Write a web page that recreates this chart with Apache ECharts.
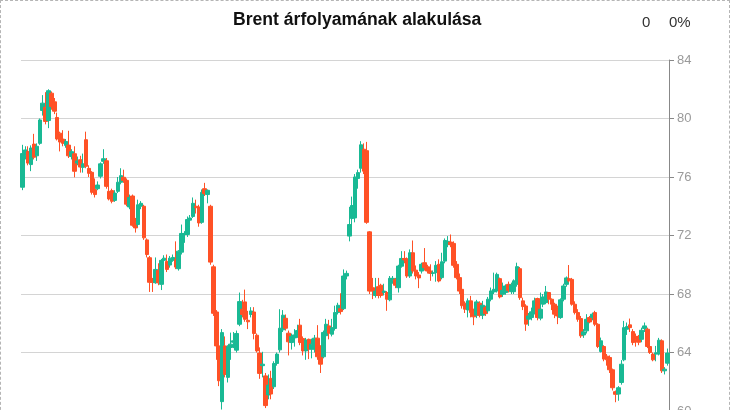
<!DOCTYPE html>
<html>
<head>
<meta charset="utf-8">
<script src="https://cdn.jsdelivr.net/npm/echarts@6/dist/echarts.min.js"></script>
<style>
html,body{margin:0;padding:0;background:#fff;overflow:hidden;}
#wrap{position:absolute;left:0;top:0;width:730px;height:430px;box-sizing:border-box;border:1px dashed #b5b5b5;}
#chart{width:728px;height:428px;}
</style>
</head>
<body>
<div id="wrap"><div id="chart"></div></div>
<script>
const titleText = 'Brent árfolyamának alakulása';
const changeValue = '0';
const changePercent = '0%';
const yTicks = {min: 60, max: 84, step: 4};

const opens = [75.3,77.5,77.75,76.85,78.25,77.45,78.3,80.55,80.77,79.86,81.73,81.14,80.07,79.0,78.59,78.16,78.18,77.4,77.59,76.95,77.18,76.66,78.55,76.59,76.32,75.14,75.2,76.05,77.07,77.11,75.02,75.07,74.4,75.02,75.64,75.98,75.77,73.95,74.7,72.86,72.75,74.0,74.0,71.7,70.48,68.95,68.77,69.6,68.66,70.3,70.23,69.98,70.3,70.36,69.73,70.86,72.07,72.07,73.05,73.3,74.0,73.95,72.9,75.2,74.8,74.0,69.86,66.77,64.45,60.64,64.45,62.3,64.34,64.7,64.16,65.93,66.96,67.46,66.2,66.6,66.77,65.18,63.96,63.1,62.4,61.1,62.23,61.66,63.25,64.18,65.55,66.34,65.32,64.68,65.0,65.15,65.87,64.95,64.11,64.9,64.23,64.23,64.98,64.34,63.71,65.15,65.82,65.25,65.64,66.73,67.0,67.0,69.23,71.96,73.16,73.2,75.9,76.6,77.9,77.8,72.25,68.43,67.9,68.5,68.6,68.1,68.1,67.6,68.9,69.0,68.43,69.9,70.43,70.41,69.23,70.82,69.63,69.3,69.57,70.14,69.86,69.57,69.41,69.46,70.03,69.12,70.25,71.4,71.55,71.46,70.03,69.12,68.32,67.37,66.91,67.53,66.91,66.55,67.37,66.55,67.07,66.85,67.64,68.14,68.21,69.05,67.98,68.1,68.66,68.16,68.16,68.66,69.73,67.53,67.18,66.28,66.39,66.73,67.69,66.35,67.3,67.41,68.1,67.64,67.3,67.07,66.39,67.64,68.66,69.05,69.0,67.3,66.73,66.32,65.2,65.48,66.39,66.4,66.73,65.93,64.07,64.41,63.75,63.66,62.82,61.32,61.16,61.95,63.5,65.59,65.89,65.43,65.1,65.1,64.9,65.64,65.59,64.41,63.89,63.89,63.89,64.8,62.75,63.27];
const closes = [77.6,77.85,76.95,77.98,77.35,78.1,79.9,81.05,79.8,81.9,80.82,80.5,78.6,78.39,78.3,78.43,77.45,77.73,76.39,77.1,76.68,76.9,76.73,76.25,74.95,74.8,75.45,76.9,77.25,75.36,74.5,74.34,74.9,75.64,76.09,75.77,74.14,74.6,72.7,72.52,74.1,74.2,71.84,70.7,68.8,68.8,69.68,68.77,70.3,70.45,69.68,70.45,70.5,69.84,70.93,72.14,72.14,73.09,73.2,74.2,73.9,72.86,74.95,74.86,75.09,70.18,66.68,64.45,62.07,65.36,62.5,64.4,64.57,64.8,65.3,67.48,66.6,66.27,66.1,66.84,65.3,64.11,62.57,63.2,60.37,61.77,61.16,63.25,63.89,65.66,66.55,65.66,64.73,65.1,65.2,65.5,64.68,64.11,64.86,64.23,64.57,64.98,63.71,63.2,65.37,65.93,65.32,65.7,66.73,67.23,66.8,69.23,69.41,72.75,74.05,76.0,76.3,78.2,76.4,72.9,68.2,68.2,68.2,67.9,67.9,68.2,67.64,69.07,69.07,68.6,69.91,70.43,70.33,69.23,70.82,69.57,69.23,69.1,70.03,69.8,69.57,69.41,69.45,69.96,68.89,70.2,71.66,71.6,71.37,69.96,69.12,68.2,67.2,66.96,67.53,66.73,66.44,67.46,66.55,67.23,66.66,67.64,68.21,68.32,69.34,67.8,68.25,68.55,68.25,68.62,68.9,69.87,67.75,67.14,65.94,66.5,66.78,67.53,66.39,66.96,67.8,68.14,67.64,67.3,66.62,66.5,67.6,68.55,69.1,68.9,67.3,66.73,66.27,65.14,65.41,66.27,66.09,66.62,65.93,64.41,64.8,63.55,63.5,62.82,61.59,61.14,61.59,63.2,65.7,65.77,65.7,64.68,64.9,64.7,65.52,65.82,64.41,64.0,63.5,63.98,64.84,62.75,62.86,63.96];
const lows = [75.1,77.2,76.8,76.4,77.2,77.1,78.2,80.2,79.6,79.34,80.6,80.3,78.5,77.75,78.1,78.0,77.3,77.2,75.98,76.8,76.3,76.3,76.6,76.0,74.8,74.6,75.1,75.9,76.9,75.2,74.4,74.2,74.3,74.9,75.5,75.6,74.0,73.8,72.6,72.2,72.6,73.8,71.7,70.5,68.14,68.14,68.7,68.6,68.27,70.0,69.5,69.8,70.2,69.7,69.6,70.7,71.5,71.9,72.6,73.2,73.5,72.6,72.8,74.7,74.2,70.0,66.5,63.5,61.7,60.1,62.3,61.95,63.5,64.3,64.0,65.8,66.4,66.1,65.6,66.4,64.9,64.0,62.2,62.3,60.2,60.8,60.8,61.5,63.1,64.0,65.4,65.5,63.8,64.2,64.4,65.0,64.5,63.8,63.5,63.55,63.6,64.0,63.5,62.6,63.6,65.0,64.9,65.1,65.5,66.6,66.6,66.9,69.0,71.6,72.0,72.9,75.2,76.3,76.2,72.8,68.0,67.65,67.75,67.7,67.75,67.9,66.85,67.5,68.7,68.4,68.1,69.8,70.1,69.1,69.1,69.4,69.0,68.4,69.4,69.6,69.4,68.9,69.2,68.84,68.8,69.0,70.1,71.2,71.2,69.8,69.0,68.0,67.0,66.7,66.4,66.4,65.87,66.35,66.4,66.28,66.5,66.7,67.5,68.0,68.1,67.7,67.8,67.95,68.1,68.0,68.0,68.5,67.6,66.9,65.48,65.82,66.2,66.6,66.2,66.2,67.1,67.3,67.3,66.9,66.35,65.94,66.3,67.5,68.5,68.8,67.2,66.6,66.1,65.0,65.0,65.3,66.0,66.2,65.8,64.3,64.0,63.4,63.1,62.6,61.4,60.6,60.7,61.8,63.4,65.2,65.4,64.5,64.4,64.5,64.7,65.4,64.3,63.9,63.4,63.4,63.8,62.6,62.5,63.1];
const highs = [78.2,78.1,78.1,78.16,78.95,78.3,80.0,81.6,81.8,82.0,81.85,81.4,80.4,79.1,79.2,78.6,79.16,77.9,78.1,77.4,77.45,77.6,79.1,76.8,76.4,75.9,75.7,77.0,77.9,77.3,75.55,75.2,75.1,76.0,76.6,76.5,75.9,74.8,74.8,73.2,74.45,74.35,74.1,71.8,70.6,69.1,70.5,70.1,70.4,70.65,70.7,70.6,70.7,71.6,71.0,72.75,72.3,73.3,73.4,74.6,74.45,74.1,75.15,75.6,75.15,74.1,70.0,66.9,65.4,65.6,65.1,64.5,65.36,65.4,65.5,68.1,67.6,68.3,66.85,67.1,67.1,65.3,64.35,64.05,62.6,62.5,62.75,63.4,64.0,66.96,66.9,66.6,65.5,65.3,65.6,65.9,66.3,65.1,65.0,64.95,64.95,65.2,65.87,64.5,65.5,66.3,66.23,66.3,67.2,67.4,68.05,69.68,69.6,73.96,74.66,76.2,76.5,78.45,78.3,78.4,72.3,69.1,69.1,69.1,68.7,68.7,68.2,69.23,69.23,69.1,70.0,70.93,70.93,70.5,71.05,71.66,69.95,69.5,70.14,71.14,70.0,70.03,69.6,70.25,70.37,70.82,71.8,71.96,72.07,71.6,70.25,69.4,68.5,67.5,67.7,67.87,67.0,67.6,67.5,67.53,67.2,67.8,68.44,69.46,69.46,69.12,68.78,68.66,68.85,68.78,69.0,70.14,69.85,67.75,67.3,66.7,67.07,67.75,67.75,68.1,68.0,68.55,68.14,67.7,67.4,67.2,67.7,68.7,69.2,69.98,69.1,67.5,66.96,66.5,65.6,66.62,66.5,66.73,66.85,66.0,65.02,64.5,63.9,63.8,62.9,61.4,61.7,63.48,66.16,66.05,66.32,65.6,65.3,65.2,65.7,66.05,65.7,64.5,64.0,64.45,65.0,64.9,63.0,64.27];
const categories = opens.map((_, i) => String(i + 1));

const candles = opens.map((o, i) => [o, closes[i], lows[i], highs[i]]);
const UP = '#19b994', DOWN = '#ff5126';

const chart = echarts.init(document.getElementById('chart'), null, {renderer: 'canvas'});
chart.setOption({
  animation: false,
  backgroundColor: '#fff',
  textStyle: {fontFamily: 'Liberation Sans, Arial, sans-serif'},
  title: {
    text: titleText, left: 232, top: 10, padding: 0,
    textStyle: {fontSize: 17.6, fontWeight: 'bold', color: '#111', fontFamily: 'Liberation Sans, Arial, sans-serif'}
  },
  graphic: [
    {type: 'text', left: 641, top: 14, style: {text: changeValue, fill: '#333', font: '15px Liberation Sans, Arial, sans-serif'}},
    {type: 'text', left: 668, top: 14, style: {text: changePercent, fill: '#333', font: '15px Liberation Sans, Arial, sans-serif'}}
  ],
  grid: {left: 20, right: 60, top: 59, height: 351},
  xAxis: {type: 'category', data: categories, show: false, boundaryGap: true},
  yAxis: {
    type: 'value', position: 'right', min: yTicks.min, max: yTicks.max, interval: yTicks.step,
    axisLine: {show: true, lineStyle: {color: '#888', width: 1}},
    axisTick: {show: true, length: 5, lineStyle: {color: '#888'}},
    axisLabel: {color: '#9a9a9a', fontSize: 13, margin: 8},
    splitLine: {show: true, lineStyle: {color: '#d4d4d4'}}
  },
  series: [{
    type: 'candlestick',
    data: candles,
    barWidth: 4,
    itemStyle: {color: UP, color0: DOWN, borderColor: UP, borderColor0: DOWN, borderWidth: 1}
  }]
});
</script>
</body>
</html>
